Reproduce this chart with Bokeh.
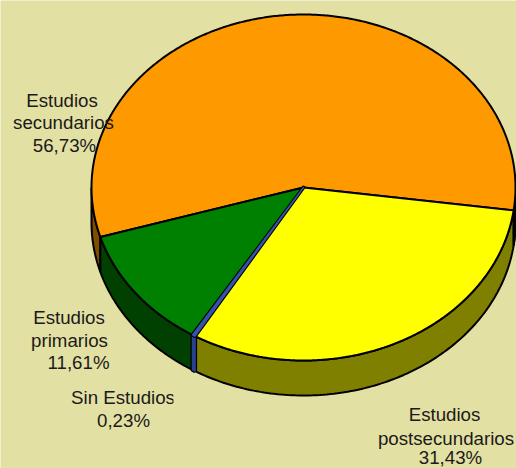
import numpy as np
from bokeh.plotting import figure
from bokeh.embed import file_html
from bokeh.resources import INLINE
from bokeh.core.properties import value

categories = ["Estudios postsecundarios", "Sin Estudios", "Estudios primarios", "Estudios secundarios"]
shares = [31.43, 0.23, 11.61, 56.73]
percent_labels = ["31,43%", "0,23%", "11,61%", "56,73%"]

top_colors = ["#FFFF00", "#3353B0", "#008000", "#FF9900"]
side_colors = ["#808000", "#2A4090", "#004000", "#804C00"]
BG = "#E3E0A3"
W, H = 516, 468
CX, CY, RX, RY, DEPTH = 303.0, 187.0, 212.0, 173.0, 35.0
START = 7.6

label_pos = {
    "Estudios postsecundarios": [(444, 414, "Estudios"), (445.5, 438, "postsecundarios"), (450, 457, "31,43%")],
    "Sin Estudios": [(122.5, 397, "Sin Estudios"), (123, 420, "0,23%")],
    "Estudios primarios": [(68.5, 317, "Estudios"), (69, 340, "primarios"), (78, 362, "11,61%")],
    "Estudios secundarios": [(61.5, 100, "Estudios"), (63, 122, "secundarios"), (64, 145, "56,73%")],
}

p = figure(width=W, height=H, x_range=(0, W), y_range=(H, 0), toolbar_location=None,
           output_backend="svg", background_fill_color=BG, border_fill_color=BG,
           min_border=0, outline_line_color=None)
p.axis.visible = False
p.grid.visible = False

def ex(t):
    return CX + RX * np.cos(np.radians(t))
def ey(t):
    return CY + RY * np.sin(np.radians(t))

edges = START + np.cumsum([0] + shares) * 3.6
draw_order = [3, 2, 0, 1]  # the thin slice goes last so its colour stays visible

def outlined(xs, ys, i):
    if shares[i] < 1:
        p.patch(xs, ys, fill_color="black", line_color="black", line_width=3.5)
        p.patch(xs, ys, fill_color=top_colors[i] if len(xs) < 0 else None, fill_alpha=0,
                line_color=None)
    else:
        p.patch(xs, ys, fill_color=None, line_color=None)

for i in draw_order:
    for lo, hi in ((0, 180), (360, 540)):
        a, b = max(edges[i], lo), min(edges[i + 1], hi)
        if b > a:
            t = np.linspace(a, b, 120)
            xs = np.r_[ex(t), ex(t[::-1])]
            ys = np.r_[ey(t), ey(t[::-1]) + DEPTH]
            if shares[i] < 1:
                p.patch(xs, ys, fill_color="black", line_color="black", line_width=4)
                p.patch(xs, ys, fill_color=side_colors[i], line_color=side_colors[i], line_width=1.5)
            else:
                p.patch(xs, ys, fill_color=side_colors[i], line_color="black", line_width=2)
# orange wall on the right, from the tangent point to the start angle
t = np.linspace(0, START, 20)
p.patch(np.r_[ex(t), ex(t[::-1])], np.r_[ey(t), ey(t[::-1]) + DEPTH],
        fill_color=side_colors[3], line_color="black", line_width=2)

# top surface
for i in draw_order:
    t = np.linspace(edges[i], edges[i + 1], 400)
    xs, ys = np.r_[CX, ex(t)], np.r_[CY, ey(t)]
    if shares[i] < 1:
        p.patch(xs, ys, fill_color="black", line_color="black", line_width=3.6, line_join="round")
        p.patch(xs, ys, fill_color=top_colors[i], line_color=top_colors[i], line_width=1.4, line_join="round")
    else:
        p.patch(xs, ys, fill_color=top_colors[i], line_color="black", line_width=2, line_join="round")

for name in categories:
    lines = label_pos[name]
    p.text([l[0] for l in lines], [l[1] for l in lines], text=[l[2] for l in lines],
           text_font=value("Liberation Sans"), text_font_size="18.7px", text_color="#1a1a1a",
           text_align="center", text_baseline="middle")

# the reference crops the "Sin Estudios" label on its right edge
p.quad(left=[173], right=[182], top=[388], bottom=[408], fill_color=BG, line_color=None)

html = file_html(p, INLINE)
html = html.replace("<body>", '<body style="margin:0;background:%s;overflow:hidden">' % BG, 1)
open("out.html", "w").write(html)
